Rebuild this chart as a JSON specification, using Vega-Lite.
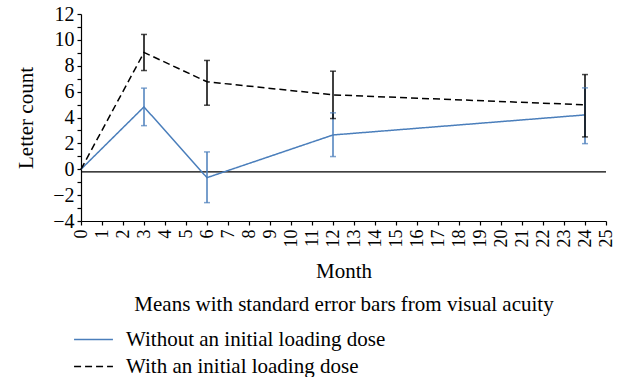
{
  "$schema": "https://vega.github.io/schema/vega-lite/v6.json",
  "width": 525,
  "height": 207,
  "padding": {"left": 15, "top": 4, "right": 5, "bottom": 0},
  "background": "white",
  "config": {
    "view": {"stroke": null},
    "font": "Liberation Serif",
    "axis": {"grid": false, "domainColor": "#000", "tickColor": "#000", "labelColor": "#000", "titleColor": "#000", "labelFont": "Liberation Serif", "titleFont": "Liberation Serif", "titleFontWeight": "normal", "domainWidth": 1.2, "tickWidth": 1.2, "labelOverlap": false}
  },
  "datasets": {
    "pts": [
      {"series": "Without an initial loading dose", "month": 0, "mean": 0, "lo": null, "hi": null},
      {"series": "Without an initial loading dose", "month": 3, "mean": 4.82, "lo": 3.37, "hi": 6.27},
      {"series": "Without an initial loading dose", "month": 6, "mean": -0.65, "lo": -2.58, "hi": 1.34},
      {"series": "Without an initial loading dose", "month": 12, "mean": 2.65, "lo": 0.98, "hi": 4.36},
      {"series": "Without an initial loading dose", "month": 24, "mean": 4.2, "lo": 1.98, "hi": 6.29},
      {"series": "With an initial loading dose", "month": 0, "mean": 0, "lo": null, "hi": null},
      {"series": "With an initial loading dose", "month": 3, "mean": 9.03, "lo": 7.63, "hi": 10.42},
      {"series": "With an initial loading dose", "month": 6, "mean": 6.76, "lo": 4.95, "hi": 8.41},
      {"series": "With an initial loading dose", "month": 12, "mean": 5.75, "lo": 3.92, "hi": 7.58},
      {"series": "With an initial loading dose", "month": 24, "mean": 4.98, "lo": 2.5, "hi": 7.32}
    ]
  },
  "layer": [
    {
      "data": {"values": [{"z": -0.2}]},
      "mark": {"type": "rule", "color": "#000", "strokeWidth": 1.2},
      "encoding": {"y": {"field": "z", "type": "quantitative", "scale": {"domain": [-4, 12], "nice": false},
          "axis": {"values": [-4,-3,-2,-1,0,1,2,3,4,5,6,7,8,9,10,11,12], "labelOverlap": false, "labelFlush": false, "labelExpr": "datum.value % 2 == 0 ? datum.label : ''", "labelFontSize": 20, "tickSize": 4, "labelPadding": 3, "title": "Letter count", "titleFontSize": 21, "titlePadding": 16}}}
    },
    {
      "data": {"name": "pts"},
      "mark": {"type": "line", "strokeWidth": 1.5},
      "encoding": {
        "x": {"field": "month", "type": "quantitative", "scale": {"domain": [0, 25], "nice": false},
          "axis": {"values": [0,1,2,3,4,5,6,7,8,9,10,11,12,13,14,15,16,17,18,19,20,21,22,23,24,25], "labelOverlap": false, "labelFlush": false, "labelAngle": -90, "labelAlign": "right", "labelBaseline": "middle", "labelFontSize": 18, "tickSize": 4, "labelPadding": 4, "title": ["Month", "Means with standard error bars from visual acuity"], "titleFontSize": 21, "titleLineHeight": 33, "titlePadding": 13}},
        "y": {"field": "mean", "type": "quantitative", "scale": {"domain": [-4, 12], "nice": false},
          "axis": {"values": [-4,-3,-2,-1,0,1,2,3,4,5,6,7,8,9,10,11,12], "labelOverlap": false, "labelFlush": false, "labelExpr": "datum.value % 2 == 0 ? datum.label : ''", "labelFontSize": 20, "tickSize": 4, "labelPadding": 3, "title": "Letter count", "titleFontSize": 21, "titlePadding": 16}},
        "color": {"field": "series", "type": "nominal", "scale": {"domain": ["Without an initial loading dose", "With an initial loading dose"], "range": ["#4a7ebb", "#000000"]},
          "legend": {"title": null, "orient": "none", "legendX": 2, "legendY": 315, "symbolType": "M-2,0H2", "symbolSize": 378, "symbolStrokeWidth": 1.5, "labelFont": "Liberation Serif", "labelFontSize": 21, "labelColor": "#000", "labelOffset": 22, "labelLimit": 500, "rowPadding": 5}},
        "strokeDash": {"field": "series", "type": "nominal", "scale": {"domain": ["Without an initial loading dose", "With an initial loading dose"], "range": [[1, 0], [7, 4]]}}
      }
    },
    {
      "data": {"name": "pts"},
      "transform": [{"filter": "datum.lo != null"}],
      "mark": {"type": "rule", "strokeWidth": 1.5},
      "encoding": {
        "x": {"field": "month", "type": "quantitative", "scale": {"domain": [0, 25], "nice": false},
          "axis": {"values": [0,1,2,3,4,5,6,7,8,9,10,11,12,13,14,15,16,17,18,19,20,21,22,23,24,25], "labelOverlap": false, "labelFlush": false, "labelAngle": -90, "labelAlign": "right", "labelBaseline": "middle", "labelFontSize": 18, "tickSize": 4, "labelPadding": 4, "title": ["Month", "Means with standard error bars from visual acuity"], "titleFontSize": 21, "titleLineHeight": 33, "titlePadding": 13}},
        "y": {"field": "lo", "type": "quantitative", "scale": {"domain": [-4, 12], "nice": false},
          "axis": {"values": [-4,-3,-2,-1,0,1,2,3,4,5,6,7,8,9,10,11,12], "labelOverlap": false, "labelFlush": false, "labelExpr": "datum.value % 2 == 0 ? datum.label : ''", "labelFontSize": 20, "tickSize": 4, "labelPadding": 3, "title": "Letter count", "titleFontSize": 21, "titlePadding": 16}},
        "y2": {"field": "hi"},
        "color": {"field": "series", "type": "nominal", "legend": null}
      }
    },
    {
      "data": {"name": "pts"},
      "transform": [{"filter": "datum.lo != null"}],
      "mark": {"type": "tick", "orient": "horizontal", "size": 6, "thickness": 1.5},
      "encoding": {
        "x": {"field": "month", "type": "quantitative", "scale": {"domain": [0, 25], "nice": false},
          "axis": {"values": [0,1,2,3,4,5,6,7,8,9,10,11,12,13,14,15,16,17,18,19,20,21,22,23,24,25], "labelOverlap": false, "labelFlush": false, "labelAngle": -90, "labelAlign": "right", "labelBaseline": "middle", "labelFontSize": 18, "tickSize": 4, "labelPadding": 4, "title": ["Month", "Means with standard error bars from visual acuity"], "titleFontSize": 21, "titleLineHeight": 33, "titlePadding": 13}},
        "y": {"field": "lo", "type": "quantitative", "scale": {"domain": [-4, 12], "nice": false},
          "axis": {"values": [-4,-3,-2,-1,0,1,2,3,4,5,6,7,8,9,10,11,12], "labelOverlap": false, "labelFlush": false, "labelExpr": "datum.value % 2 == 0 ? datum.label : ''", "labelFontSize": 20, "tickSize": 4, "labelPadding": 3, "title": "Letter count", "titleFontSize": 21, "titlePadding": 16}},
        "color": {"field": "series", "type": "nominal", "legend": null}
      }
    },
    {
      "data": {"name": "pts"},
      "transform": [{"filter": "datum.lo != null"}],
      "mark": {"type": "tick", "orient": "horizontal", "size": 6, "thickness": 1.5},
      "encoding": {
        "x": {"field": "month", "type": "quantitative", "scale": {"domain": [0, 25], "nice": false},
          "axis": {"values": [0,1,2,3,4,5,6,7,8,9,10,11,12,13,14,15,16,17,18,19,20,21,22,23,24,25], "labelOverlap": false, "labelFlush": false, "labelAngle": -90, "labelAlign": "right", "labelBaseline": "middle", "labelFontSize": 18, "tickSize": 4, "labelPadding": 4, "title": ["Month", "Means with standard error bars from visual acuity"], "titleFontSize": 21, "titleLineHeight": 33, "titlePadding": 13}},
        "y": {"field": "hi", "type": "quantitative", "scale": {"domain": [-4, 12], "nice": false},
          "axis": {"values": [-4,-3,-2,-1,0,1,2,3,4,5,6,7,8,9,10,11,12], "labelOverlap": false, "labelFlush": false, "labelExpr": "datum.value % 2 == 0 ? datum.label : ''", "labelFontSize": 20, "tickSize": 4, "labelPadding": 3, "title": "Letter count", "titleFontSize": 21, "titlePadding": 16}},
        "color": {"field": "series", "type": "nominal", "legend": null}
      }
    }
  ]
}
